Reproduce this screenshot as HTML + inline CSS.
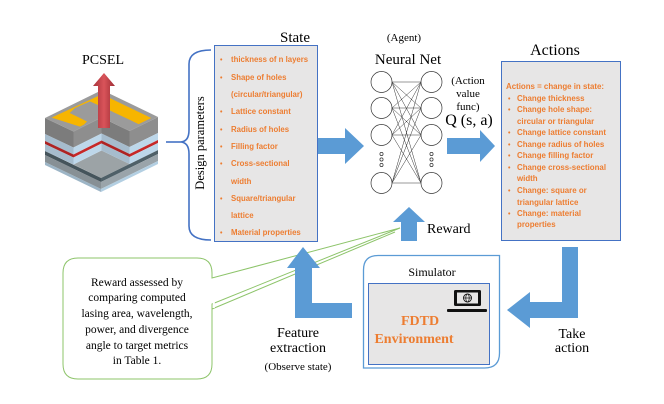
<!DOCTYPE html>
<html><head><meta charset="utf-8">
<style>
html,body{margin:0;padding:0;background:#fff;}
svg{display:block;}
.serif{font-family:"Liberation Serif",serif;}
.sans{font-family:"Liberation Sans",sans-serif;}
</style></head>
<body>
<svg width="664" height="404" viewBox="0 0 664 404" xmlns="http://www.w3.org/2000/svg">
<defs>
  <g id="up">
    <rect x="0" y="0" width="1" height="16" fill="#8e8e8e"/>
    <rect x="0" y="16" width="1" height="7" fill="#bdd7ea"/>
    <rect x="0" y="23" width="1" height="3" fill="#c62828"/>
    <rect x="0" y="26" width="1" height="7" fill="#bdd7ea"/>
  </g>
  <g id="lo">
    <rect x="0" y="33" width="1" height="4" fill="#4f6068"/>
    <rect x="0" y="37" width="1" height="7" fill="#9aa4aa"/>
    <rect x="0" y="44" width="1" height="3" fill="#b3cfe2"/>
  </g>
  <linearGradient id="ra" x1="0" y1="0" x2="1" y2="0">
    <stop offset="0" stop-color="#a8323a"/><stop offset="0.5" stop-color="#d9545a"/><stop offset="1" stop-color="#9e2c34"/>
  </linearGradient>
</defs>

<!-- PCSEL -->
<text x="103" y="64" class="serif" font-size="14" text-anchor="middle">PCSEL</text>
<polygon points="101.5,150.5 129.5,164 101,178 73.5,164.5" fill="#9ca3a6"/>
<use href="#lo" transform="matrix(56,27,0,1,45,118)"/>
<g transform="matrix(56,27,0,1,45,118)"><rect x="0" y="33" width="1" height="14" fill="#000" opacity="0.12"/></g>
<use href="#lo" transform="matrix(-57,28,0,1,158,117)"/>
<use href="#up" transform="matrix(28.5,13.5,0,1,45,118)"/>
<g transform="matrix(28.5,13.5,0,1,45,118)"><rect x="0" y="0" width="1" height="33" fill="#000" opacity="0.12"/></g>
<use href="#up" transform="matrix(28,13.5,0,1,101.5,117.5)"/>
<g transform="matrix(28,13.5,0,1,101.5,117.5)"><rect x="0" y="0" width="1" height="33" fill="#000" opacity="0.12"/></g>
<use href="#up" transform="matrix(-28.5,14,0,1,158,117)"/>
<use href="#up" transform="matrix(-28,14,0,1,101.5,117.5)"/>
<polygon points="102,90 158,117 129.5,131 101.5,117.5 73.5,131.5 45,118" fill="#9b9b9b"/>
<polygon points="102,94.3 151.2,118 138.6,124.1 128,119 113,112 101.6,106.6 90,101.4 75,108 69.6,113 79,117.5 87,121.5 84,124.6 80,126.6 51.6,117.6" fill="#f7b500"/>
<polygon points="101.6,106.6 113,112 102,117 90,112" fill="#9b9b9b"/>
<polygon points="98,128 98,86 93,86 104,73 115,86 110,86 110,128" fill="url(#ra)"/>

<!-- Brace -->
<path d="M211,50 Q189,50 189,64 L189,130 Q189,142 180,142 Q189,142 189,154 L189,226 Q189,240 211,240" fill="none" stroke="#4472c4" stroke-width="1.6"/>
<line x1="166" y1="142" x2="180" y2="142" stroke="#4472c4" stroke-width="1.6"/>
<text transform="translate(204,143) rotate(-90)" class="serif" font-size="12.5" text-anchor="middle">Design parameters</text>

<!-- State -->
<text x="310" y="42" class="serif" font-size="15" text-anchor="end">State</text>
<rect x="214.5" y="45.5" width="103" height="196" fill="#e7e6e6" stroke="#4472c4" stroke-width="1"/>
<g class="sans" font-size="7.8" font-weight="bold" fill="#ed7d31">
  <g font-size="7">
  <text x="220" y="62">•</text><text x="220" y="80">•</text><text x="220" y="114">•</text><text x="220" y="132">•</text><text x="220" y="149">•</text><text x="220" y="166">•</text><text x="220" y="201">•</text><text x="220" y="235">•</text>
  </g>
  <text x="231" y="62">thickness of n layers</text>
  <text x="231" y="80">Shape of holes</text>
  <text x="231" y="97">(circular/triangular)</text>
  <text x="231" y="114">Lattice constant</text>
  <text x="231" y="132">Radius of holes</text>
  <text x="231" y="149">Filling factor</text>
  <text x="231" y="166">Cross-sectional</text>
  <text x="231" y="184">width</text>
  <text x="231" y="201">Square/triangular</text>
  <text x="231" y="218">lattice</text>
  <text x="231" y="235">Material properties</text>
</g>

<polygon points="318,138 345,138 345,128 364,146 345,164 345,154 318,154" fill="#5b9bd5"/>

<!-- Neural net -->
<text x="404" y="41" class="serif" font-size="11" text-anchor="middle">(Agent)</text>
<text x="408" y="64" class="serif" font-size="15" text-anchor="middle">Neural Net</text>
<g stroke="#333" stroke-width="0.5">
  <line x1="392" y1="82" x2="421" y2="82"/><line x1="392" y1="82" x2="421" y2="108"/><line x1="392" y1="82" x2="421" y2="135"/><line x1="392" y1="82" x2="421" y2="183"/>
  <line x1="392" y1="108" x2="421" y2="82"/><line x1="392" y1="108" x2="421" y2="108"/><line x1="392" y1="108" x2="421" y2="135"/><line x1="392" y1="108" x2="421" y2="183"/>
  <line x1="392" y1="135" x2="421" y2="82"/><line x1="392" y1="135" x2="421" y2="108"/><line x1="392" y1="135" x2="421" y2="135"/><line x1="392" y1="135" x2="421" y2="183"/>
  <line x1="392" y1="183" x2="421" y2="82"/><line x1="392" y1="183" x2="421" y2="108"/><line x1="392" y1="183" x2="421" y2="135"/><line x1="392" y1="183" x2="421" y2="183"/>
</g>
<g fill="#fff" stroke="#333" stroke-width="0.7">
  <circle cx="381.5" cy="82" r="10.5"/><circle cx="381.5" cy="108" r="10.5"/><circle cx="381.5" cy="135" r="10.5"/><circle cx="381.5" cy="183" r="10.5"/>
  <circle cx="431.5" cy="82" r="10.5"/><circle cx="431.5" cy="108" r="10.5"/><circle cx="431.5" cy="135" r="10.5"/><circle cx="431.5" cy="183" r="10.5"/>
  <circle cx="381.5" cy="154" r="1.6"/><circle cx="381.5" cy="159.5" r="1.6"/><circle cx="381.5" cy="165" r="1.6"/>
  <circle cx="431.5" cy="154" r="1.6"/><circle cx="431.5" cy="159.5" r="1.6"/><circle cx="431.5" cy="165" r="1.6"/>
</g>
<g class="serif" font-size="11" text-anchor="middle">
  <text x="468" y="84">(Action</text>
  <text x="468" y="97">value</text>
  <text x="468" y="110">func)</text>
</g>
<text x="469" y="125" class="serif" font-size="16" text-anchor="middle">Q (s, a)</text>

<polygon points="447,138 480,138 480,130 495,146 480,162 480,154 447,154" fill="#5b9bd5"/>

<!-- Actions -->
<text x="555" y="55" class="serif" font-size="16" text-anchor="middle">Actions</text>
<rect x="501.5" y="61.5" width="119" height="179" fill="#e7e6e6" stroke="#4472c4" stroke-width="1"/>
<g class="sans" font-size="7.9" font-weight="bold" fill="#ed7d31">
  <text x="506" y="89">Actions = change in state:</text>
  <g font-size="7">
  <text x="508" y="101">•</text><text x="508" y="112">•</text><text x="508" y="135">•</text><text x="508" y="147">•</text><text x="508" y="158">•</text><text x="508" y="170">•</text><text x="508" y="193">•</text><text x="508" y="216">•</text>
  </g>
  <text x="517" y="101">Change thickness</text>
  <text x="517" y="112">Change hole shape:</text>
  <text x="517" y="124">circular or triangular</text>
  <text x="517" y="135">Change lattice constant</text>
  <text x="517" y="147">Change radius of holes</text>
  <text x="517" y="158">Change filling factor</text>
  <text x="517" y="170">Change cross-sectional</text>
  <text x="517" y="181">width</text>
  <text x="517" y="193">Change: square or</text>
  <text x="517" y="205">triangular lattice</text>
  <text x="517" y="216">Change: material</text>
  <text x="517" y="227">properties</text>
</g>

<polygon points="401,241 401,222 393,222 409,207 425,222 417,222 417,241" fill="#5b9bd5"/>
<text x="427" y="233" class="serif" font-size="14">Reward</text>

<!-- Callout -->
<path d="M78,258 L197,258 Q212,258 212,273 L212,278 L400,228 L212,304 L212,309 L395,232 L212,309 L212,364 Q212,379 197,379 L78,379 Q63,379 63,364 L63,273 Q63,258 78,258 Z" fill="#fff" stroke="#8dc46a" stroke-width="1"/>
<rect x="212.8" y="279" width="2" height="29" fill="#fff"/>
<g class="serif" font-size="11.5" text-anchor="middle">
  <text x="137" y="286">Reward assessed by</text>
  <text x="137" y="301">comparing computed</text>
  <text x="137" y="317">lasing area, wavelength,</text>
  <text x="137" y="333">power, and divergence</text>
  <text x="137" y="349">angle to target metrics</text>
  <text x="137" y="364">in Table 1.</text>
</g>

<polygon points="352,303 352,318 295,318 295,268 287,268 303,247 320,268 312,268 312,303" fill="#5b9bd5"/>
<text x="298" y="337" class="serif" font-size="14" text-anchor="middle">Feature</text>
<text x="298" y="352" class="serif" font-size="14" text-anchor="middle">extraction</text>
<text x="298" y="370" class="serif" font-size="11" text-anchor="middle">(Observe state)</text>

<!-- Simulator -->
<path d="M378,255.5 L499.5,255.5 L499.5,353 Q499.5,368 484.5,368 L363.5,368 L363.5,270 Q363.5,255.5 378,255.5 Z" fill="#fff" stroke="#5b9bd5" stroke-width="1.3"/>
<text x="432" y="276" class="serif" font-size="12" text-anchor="middle">Simulator</text>
<rect x="368.5" y="283.5" width="121" height="81" fill="#e7e6e6" stroke="#4472c4" stroke-width="1"/>
<rect x="454" y="290" width="27" height="16" rx="1.5" fill="#111"/>
<rect x="457" y="292.5" width="21" height="11" fill="#e7e6e6"/>
<circle cx="467.5" cy="298" r="4" fill="none" stroke="#111" stroke-width="0.9"/>
<ellipse cx="467.5" cy="298" rx="1.7" ry="4" fill="none" stroke="#111" stroke-width="0.7"/>
<line x1="463.5" y1="298" x2="471.5" y2="298" stroke="#111" stroke-width="0.7"/>
<rect x="447" y="309" width="40" height="3" rx="1" fill="#111"/>
<text x="420" y="325" class="serif" font-size="14" font-weight="bold" fill="#ed7d31" text-anchor="middle">FDTD</text>
<text x="414" y="343" class="serif" font-size="14" font-weight="bold" fill="#ed7d31" text-anchor="middle">Environment</text>

<polygon points="562,247 578,247 578,318 530,318 530,328 507,310 530,292 530,302 562,302" fill="#5b9bd5"/>
<text x="572" y="338" class="serif" font-size="14" text-anchor="middle">Take</text>
<text x="572" y="352" class="serif" font-size="14" text-anchor="middle">action</text>
</svg>
</body></html>
